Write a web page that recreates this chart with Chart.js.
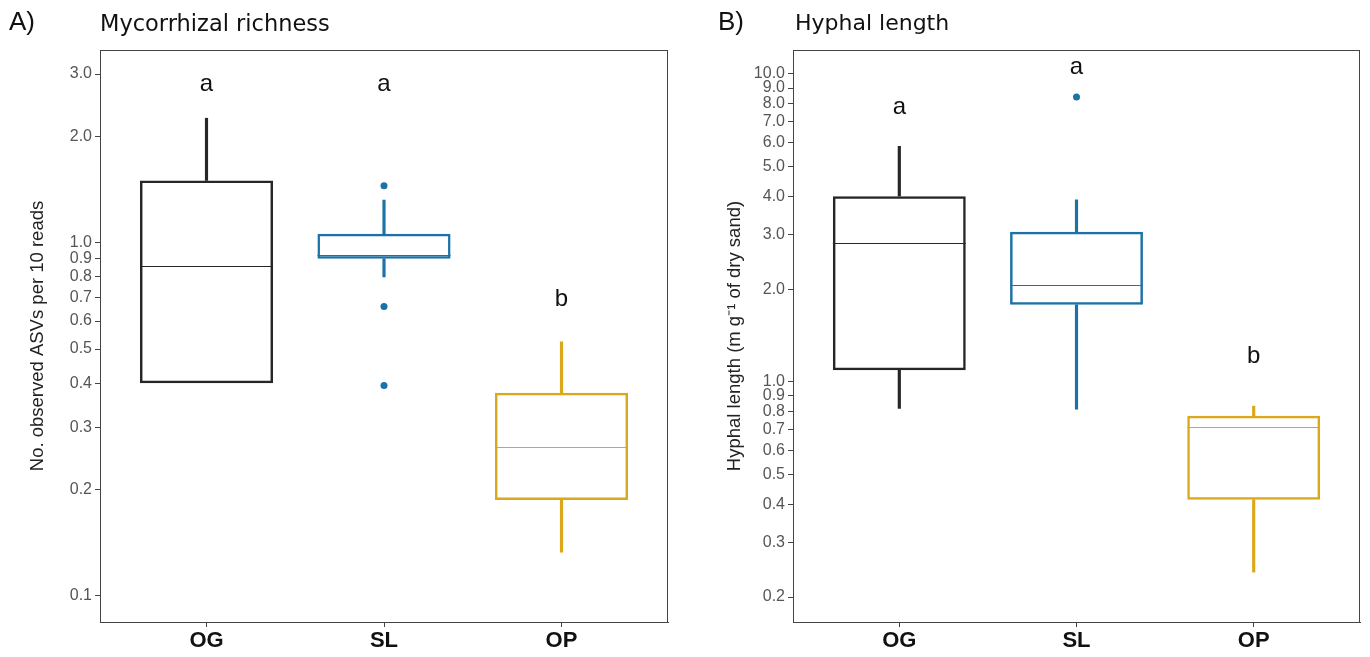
<!DOCTYPE html>
<html lang="en">
<head>
<meta charset="UTF-8">
<title>Mycorrhizal richness and hyphal length</title>
<script src="https://cdn.jsdelivr.net/npm/chart.js"></script>
<style>
  body {
    margin: 0;
    background: #fff;
    width: 1370px;
    height: 657px;
    position: relative;
    overflow: hidden;
    font-family: "Liberation Sans", Arial, sans-serif;
  }
  .panel { position: absolute; top: 0; width: 685px; height: 657px; }
  .panel canvas { position: absolute; left: 0; top: 0; }
  .tag { position: absolute; top: 6px; font-size: 26px; color: #111; }
  .title { position: absolute; top: 10px; font-family: "DejaVu Sans", Verdana, sans-serif; font-size: 22.5px; color: #111; }
</style>
</head>
<body>

<div class="panel" style="left:0">
  <canvas id="richness" width="685" height="657"></canvas>
  <div class="tag" style="left:9px">A)</div>
  <div class="title" style="left:100px">Mycorrhizal richness</div>
</div>

<div class="panel" style="left:685px">
  <canvas id="hyphae" width="685" height="657"></canvas>
  <div class="tag" style="left:33px">B)</div>
  <div class="title" style="left:110px;font-size:22px">Hyphal length</div>
</div>

<script>
// groups and their colours
const groups = ['OG', 'SL', 'OP'];
const groupColors = ['#262626', '#1b72a8', '#dba81c'];

// A) observed ASVs - box statistics per group
const richMin = [0.40, 0.80, 0.133];
const richQ1 = [0.40, 0.90, 0.187];
const richMed = [0.857, 0.925, 0.264];
const richQ3 = [1.50, 1.06, 0.376];
const richMax = [2.25, 1.32, 0.524];
const richOutliers = [[], [1.45, 0.66, 0.394], []];
const richLetters = ['a', 'a', 'b'];
const richLetterAt = [2.8, 2.8, 0.69];
const richTicks = [0.1, 0.2, 0.3, 0.4, 0.5, 0.6, 0.7, 0.8, 0.9, 1.0, 2.0, 3.0];

// B) hyphal length - box statistics per group
const hyphMin = [0.82, 0.815, 0.241];
const hyphQ1 = [1.09, 1.78, 0.414];
const hyphMed = [2.82, 2.06, 0.714];
const hyphQ3 = [4.01, 3.07, 0.776];
const hyphMax = [5.82, 3.90, 0.834];
const hyphOutliers = [[], [8.42], []];
const hyphLetters = ['a', 'a', 'b'];
const hyphLetterAt = [7.76, 10.5, 1.21];
const hyphTicks = [0.2, 0.3, 0.4, 0.5, 0.6, 0.7, 0.8, 0.9, 1.0, 2.0, 3.0, 4.0, 5.0, 6.0, 7.0, 8.0, 9.0, 10.0];

// median lines, letters and panel frame
const boxExtras = {
  id: 'boxExtras',
  afterDatasetsDraw(chart, args, opts) {
    const {ctx, chartArea, scales: {x, y}} = chart;
    const boxes = chart.getDatasetMeta(0).data;
    ctx.save();
    opts.med.forEach((m, i) => {
      const bar = boxes[i];
      const py = Math.round(y.getPixelForValue(m)) + 0.5;
      ctx.strokeStyle = groupColors[i];
      ctx.lineWidth = 1.2;
      ctx.beginPath();
      ctx.moveTo(bar.x - bar.width / 2, py);
      ctx.lineTo(bar.x + bar.width / 2, py);
      ctx.stroke();
    });
    ctx.fillStyle = '#111';
    ctx.font = '24px "Liberation Sans", Arial, sans-serif';
    ctx.textAlign = 'center';
    ctx.textBaseline = 'middle';
    opts.letters.forEach((t, i) => {
      ctx.fillText(t, x.getPixelForValue(i + 1), y.getPixelForValue(opts.letterAt[i]));
    });
    ctx.strokeStyle = '#444';
    ctx.lineWidth = 1;
    ctx.strokeRect(chartArea.left + 0.5, chartArea.top + 0.5,
      chartArea.right - chartArea.left - 1, chartArea.bottom - chartArea.top);
    ctx.restore();
  }
};

function makePanel(id, s) {
  const idx = groups.map((g, i) => i + 1);
  const outlierPts = [];
  const outlierCols = [];
  s.out.forEach((list, i) => list.forEach(v => {
    outlierPts.push({x: i + 1, y: v});
    outlierCols.push(groupColors[i]);
  }));
  // a whisker of zero length is left out
  const whisker = (x, lo, hi) => ({x: x, y: hi > lo ? [lo, hi] : null});

  return new Chart(document.getElementById(id), {
    type: 'bar',
    data: {
      datasets: [
        {
          // the boxes: Q1 to Q3
          data: idx.map((x, i) => ({x: x, y: [s.q1[i], s.q3[i]]})),
          backgroundColor: 'rgba(255,255,255,0)',
          borderColor: groupColors,
          borderWidth: 2.5,
          borderSkipped: false,
          barPercentage: 0.75,
          categoryPercentage: 1,
          grouped: false
        },
        {
          // lower whiskers
          data: idx.map((x, i) => whisker(x, s.min[i], s.q1[i])),
          backgroundColor: groupColors,
          borderWidth: 0,
          barThickness: 2.5,
          grouped: false
        },
        {
          // upper whiskers
          data: idx.map((x, i) => whisker(x, s.q3[i], s.max[i])),
          backgroundColor: groupColors,
          borderWidth: 0,
          barThickness: 2.5,
          grouped: false
        },
        {
          type: 'scatter',
          data: outlierPts,
          pointRadius: 3.5,
          pointBackgroundColor: outlierCols,
          pointBorderWidth: 0
        }
      ]
    },
    options: {
      responsive: false,
      animation: false,
      layout: {padding: {top: 50, right: s.padRight, left: 0, bottom: 0}},
      plugins: {
        legend: {display: false},
        tooltip: {enabled: false},
        boxExtras: {med: s.med, letters: s.letters, letterAt: s.letterAt}
      },
      scales: {
        x: {
          type: 'linear',
          offset: false,
          min: 0.4,
          max: 3.6,
          afterBuildTicks: sc => { sc.ticks = idx.map(v => ({value: v})); },
          afterFit: sc => { sc.height = 35; },
          ticks: {
            callback: v => groups[v - 1],
            color: '#111',
            font: {size: 22, weight: 'bold'},
            padding: 1
          },
          grid: {offset: false, drawOnChartArea: false, tickLength: 5, color: '#444'},
          border: {color: '#444'}
        },
        y: {
          type: 'logarithmic',
          min: s.yMin,
          max: s.yMax,
          afterBuildTicks: sc => { sc.ticks = s.ticks.map(v => ({value: v})); },
          afterFit: sc => { sc.width = s.axisWidth; },
          ticks: {
            autoSkip: false,
            callback: v => Number(v).toFixed(1),
            color: '#555',
            font: {size: 16},
            padding: 3
          },
          grid: {drawOnChartArea: false, tickLength: 5, color: '#444'},
          border: {color: '#444'},
          title: {
            display: true,
            text: s.yTitle,
            color: '#222',
            font: {size: 18.5},
            padding: {top: s.titlePad, bottom: 0}
          }
        }
      }
    },
    plugins: [boxExtras]
  });
}

makePanel('richness', {
  min: richMin, q1: richQ1, med: richMed, q3: richQ3, max: richMax,
  out: richOutliers, letters: richLetters, letterAt: richLetterAt,
  ticks: richTicks, yMin: 0.0844, yMax: 3.51,
  yTitle: 'No. observed ASVs per 10 reads',
  axisWidth: 100, padRight: 17, titlePad: 27
});

makePanel('hyphae', {
  min: hyphMin, q1: hyphQ1, med: hyphMed, q3: hyphQ3, max: hyphMax,
  out: hyphOutliers, letters: hyphLetters, letterAt: hyphLetterAt,
  ticks: hyphTicks, yMin: 0.166, yMax: 11.96,
  yTitle: 'Hyphal length (m g\u207B\u00B9 of dry sand)',
  axisWidth: 108, padRight: 10, titlePad: 39
});
</script>

</body>
</html>
